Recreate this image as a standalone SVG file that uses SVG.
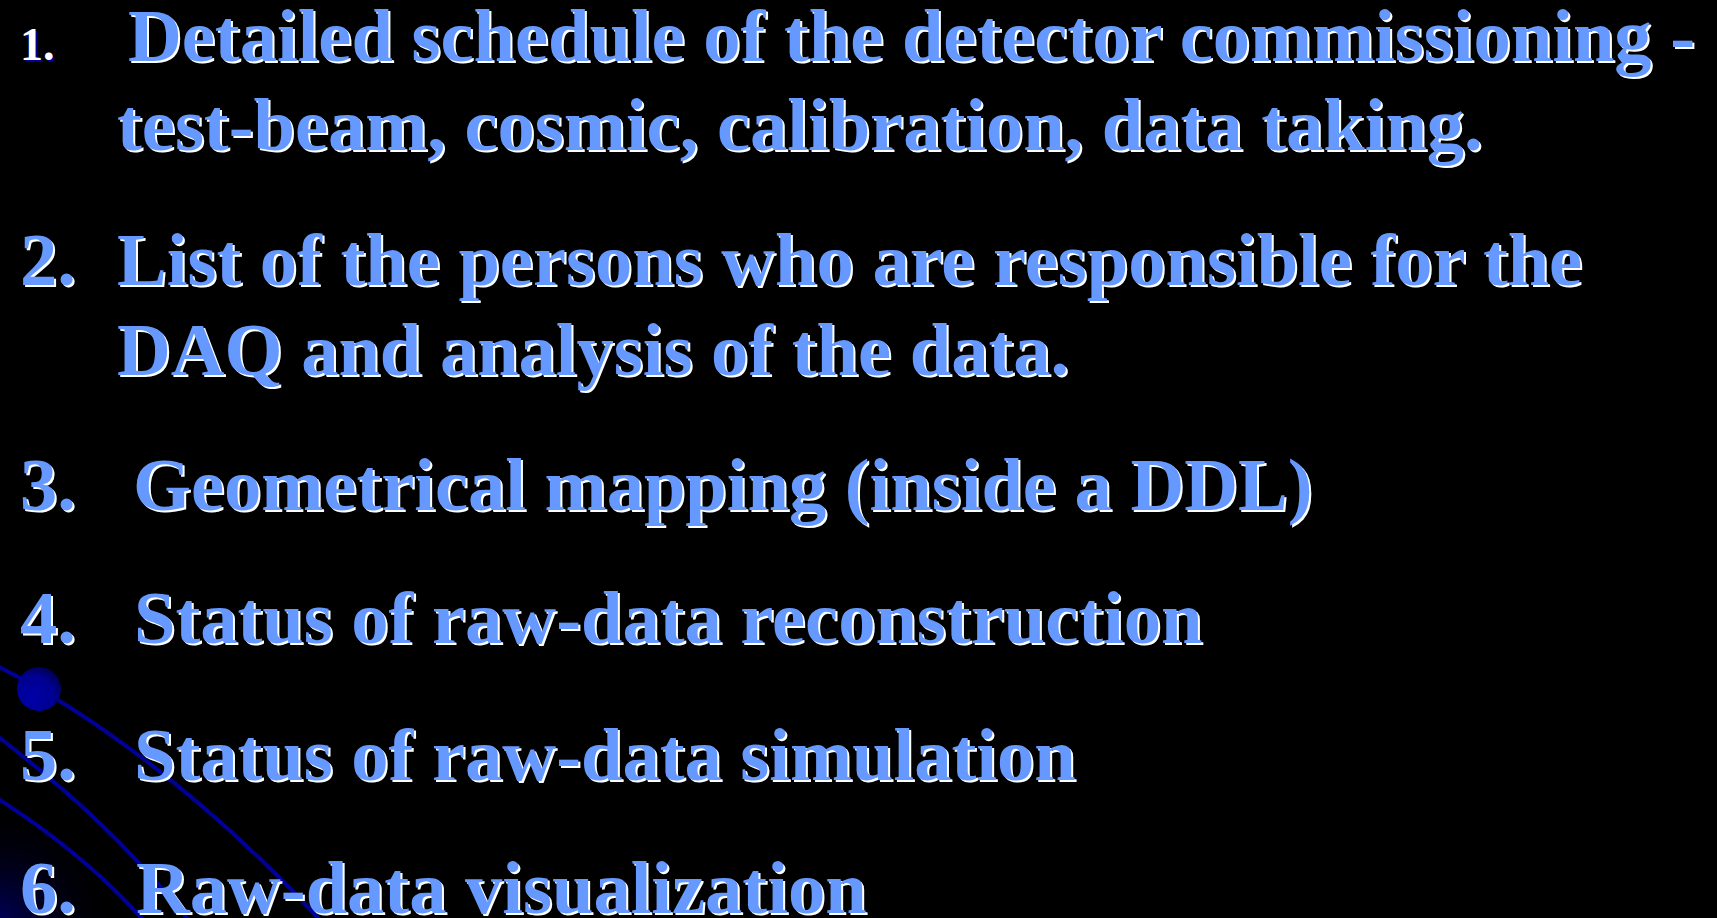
<svg xmlns="http://www.w3.org/2000/svg" xmlns:xlink="http://www.w3.org/1999/xlink" width="1717" height="918" viewBox="0 0 1717 918">
<style>
.t{font-family:"Liberation Serif","Times New Roman",serif;font-weight:bold;font-size:74.5px}
.sm{font-size:46px}
.main{fill:#6699FF}
.shd{fill:#FFFFFF}
.curve{fill:none;stroke:#000099;stroke-width:4}
</style>
<defs>
<radialGradient id="ball" cx="0.35" cy="0.7" r="0.85">
<stop offset="0" stop-color="#0000A8"/>
<stop offset="0.6" stop-color="#000090"/>
<stop offset="1" stop-color="#000033"/>
</radialGradient>
<radialGradient id="glow" cx="0" cy="1" r="1">
<stop offset="0" stop-color="#000055"/>
<stop offset="1" stop-color="#000000" stop-opacity="0"/>
</radialGradient>
<text id="l1" class="t" x="128" y="61">Detailed schedule of the detector commissioning -</text>
<text id="l1b" class="t" x="117" y="150">test-beam, cosmic, calibration, data taking.</text>
<text id="n2" class="t" x="20" y="285">2.</text>
<text id="l2" class="t" x="117" y="285">List of the persons who are responsible for the</text>
<text id="l2b" class="t" x="117" y="375">DAQ and analysis of the data.</text>
<text id="n3" class="t" x="20" y="510">3.</text>
<text id="l3" class="t" x="133" y="510">Geometrical mapping (inside a DDL)</text>
<text id="n4" class="t" x="20" y="643">4.</text>
<text id="l4" class="t" x="134" y="643">Status of raw-data reconstruction</text>
<text id="n5" class="t" x="20" y="780">5.</text>
<text id="l5" class="t" x="134" y="780">Status of raw-data simulation</text>
<text id="n6" class="t" x="20" y="913">6.</text>
<text id="l6" class="t" x="136" y="913">Raw-data visualization</text>
</defs>
<rect width="1717" height="918" fill="#000000"/>
<g id="decoration">
<rect x="0" y="800" width="120" height="118" fill="url(#glow)"/>
<path class="curve" d="M -5,665 C 80,707 200,790 322,922"/>
<path class="curve" d="M -5,734 C 60,785 120,835 190,922"/>
<path class="curve" d="M -5,797 C 40,825 100,870 145,922"/>
<circle cx="39" cy="689" r="22" fill="url(#ball)"/>
</g>
<g id="item1">
<text class="t sm" x="22" y="62" fill="#000099">1.</text>
<text class="t sm" x="20" y="60" fill="#FFFFFF">1.</text>
<use xlink:href="#l1" class="shd" x="2" y="2"/>
<use xlink:href="#l1" class="main"/>
<use xlink:href="#l1b" class="shd" x="2" y="2"/>
<use xlink:href="#l1b" class="main"/>
</g>
<g id="item2">
<use xlink:href="#n2" class="shd" x="2" y="2"/>
<use xlink:href="#n2" class="main"/>
<use xlink:href="#l2" class="shd" x="2" y="2"/>
<use xlink:href="#l2" class="main"/>
<use xlink:href="#l2b" class="shd" x="2" y="2"/>
<use xlink:href="#l2b" class="main"/>
</g>
<g id="item3">
<use xlink:href="#n3" class="shd" x="2" y="2"/>
<use xlink:href="#n3" class="main"/>
<use xlink:href="#l3" class="shd" x="2" y="2"/>
<use xlink:href="#l3" class="main"/>
</g>
<g id="item4">
<use xlink:href="#n4" class="shd" x="2" y="2"/>
<use xlink:href="#n4" class="main"/>
<use xlink:href="#l4" class="shd" x="2" y="2"/>
<use xlink:href="#l4" class="main"/>
</g>
<g id="item5">
<use xlink:href="#n5" class="shd" x="2" y="2"/>
<use xlink:href="#n5" class="main"/>
<use xlink:href="#l5" class="shd" x="2" y="2"/>
<use xlink:href="#l5" class="main"/>
</g>
<g id="item6">
<use xlink:href="#n6" class="shd" x="2" y="2"/>
<use xlink:href="#n6" class="main"/>
<use xlink:href="#l6" class="shd" x="2" y="2"/>
<use xlink:href="#l6" class="main"/>
</g>
</svg>
